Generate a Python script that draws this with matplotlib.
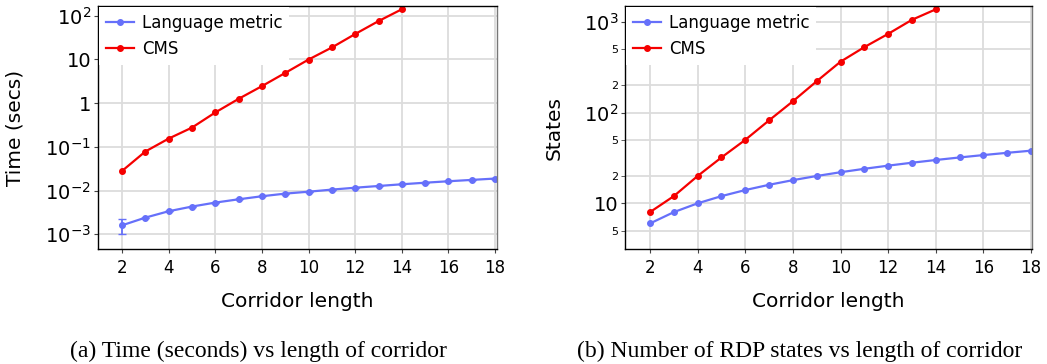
import matplotlib
matplotlib.use("Agg")
import matplotlib.pyplot as plt
from matplotlib.ticker import FixedLocator, FixedFormatter

# valores
corridor = list(range(2, 19))
cms_len = list(range(2, 15))

lang_time = [0.0016, 0.0024, 0.00336, 0.0043, 0.0053, 0.0063, 0.0074, 0.0085, 0.0094,
             0.0105, 0.0116, 0.0127, 0.0139, 0.0151, 0.0163, 0.0175, 0.0188]
lang_time_err_lo = [0.0006] + [0.0] * 16
lang_time_err_hi = [0.0006] + [0.0] * 16
cms_time = [0.028, 0.078, 0.154, 0.275, 0.61, 1.25, 2.44, 4.9, 9.9, 18.7, 38, 75, 140]

lang_states = [6, 8, 10, 12, 14, 16, 18, 20, 22, 24, 26, 28, 30, 32, 34, 36, 38]
cms_states = [8, 12, 20, 32, 50, 82, 133, 221, 363, 525, 735, 1050, 1370]

time_ticks = [1e-3, 1e-2, 1e-1, 1, 10, 100]
time_labels = ["$10^{-3}$", "$10^{-2}$", "$10^{-1}$", "1", "10", "$10^{2}$"]
state_ticks = [10, 100, 1000]
state_labels = ["10", "$10^{2}$", "$10^{3}$"]
state_minor = [5, 20, 50, 200, 500]
state_minor_labels = ["5", "2", "5", "2", "5"]
x_ticks = list(range(2, 19, 2))

blue = "#6670fa"
red = "#f50000"
grid_c = "#dcdcdc"

plt.rcParams["font.family"] = "DejaVu Sans"
fig = plt.figure(figsize=(10.47, 3.64), dpi=100)
ax1 = fig.add_axes([98 / 1047, 115 / 364, 399 / 1047, 243 / 364])
ax2 = fig.add_axes([625 / 1047, 115 / 364, 407 / 1047, 243 / 364])


def style(ax):
    ax.set_yscale("log")
    ax.set_xticks(x_ticks)
    ax.tick_params(axis="x", labelsize=12, length=3, color="#444", pad=4)
    ax.tick_params(axis="y", which="major", labelsize=14, length=3, color="#444", pad=2)
    ax.grid(True, which="major", color=grid_c, lw=1.3)
    ax.set_axisbelow(True)
    for s in ax.spines.values():
        s.set_color("black")
        s.set_linewidth(1.0)
    ax.spines["right"].set_color("#777")
    ax.set_xlabel("Corridor length", fontsize=14.5)
    ax.xaxis.set_label_coords(0.5, -0.175)


# (a) tempo
ax1.errorbar(corridor, lang_time, yerr=[lang_time_err_lo, lang_time_err_hi], color=blue,
             fmt="none", capsize=3, elinewidth=1.3)
ax1.plot(corridor, lang_time, color=blue, marker="o", ms=4, lw=1.6, label="Language metric")
ax1.plot(cms_len, cms_time, color=red, marker="o", ms=4, lw=1.6, label="CMS")
style(ax1)
ax1.set_xlim(0.97, 18.08)
ax1.set_ylim(4.6e-4, 166)
ax1.yaxis.set_major_locator(FixedLocator(time_ticks))
ax1.yaxis.set_major_formatter(FixedFormatter(time_labels))
ax1.yaxis.set_minor_locator(FixedLocator([]))
ax1.set_ylabel("Time (secs)", fontsize=14.5)
ax1.yaxis.set_label_coords(-0.183, 0.5)

# (b) estados
ax2.plot(corridor, lang_states, color=blue, marker="o", ms=4, lw=1.6, label="Language metric")
ax2.plot(cms_len, cms_states, color=red, marker="o", ms=4, lw=1.6, label="CMS")
style(ax2)
ax2.set_xlim(0.95, 18.04)
ax2.set_ylim(3.14, 1490)
ax2.yaxis.set_major_locator(FixedLocator(state_ticks))
ax2.yaxis.set_major_formatter(FixedFormatter(state_labels))
ax2.yaxis.set_minor_locator(FixedLocator(state_minor))
ax2.yaxis.set_minor_formatter(FixedFormatter(state_minor_labels))
ax2.tick_params(axis="y", which="minor", labelsize=8, length=3, color="#444", pad=2)
ax2.grid(True, which="minor", axis="y", color=grid_c, lw=1.3)
ax2.set_ylabel("States", fontsize=14.5)
ax2.yaxis.set_label_coords(-0.152, 0.5)

for ax in (ax1, ax2):
    leg = ax.legend(loc="upper left", fontsize=12, frameon=True, framealpha=1,
                    edgecolor="none", fancybox=False, borderaxespad=0.05,
                    handlelength=1.7, handletextpad=0.5, borderpad=0.4)
    leg.get_frame().set_linewidth(0)

fig.text(258 / 1047, 0.035, "(a) Time (seconds) vs length of corridor",
         ha="center", va="center", fontsize=17, family="Liberation Serif")
fig.text(800 / 1047, 0.035, "(b) Number of RDP states vs length of corridor",
         ha="center", va="center", fontsize=17, family="Liberation Serif")

fig.savefig("out.png", dpi=100)
